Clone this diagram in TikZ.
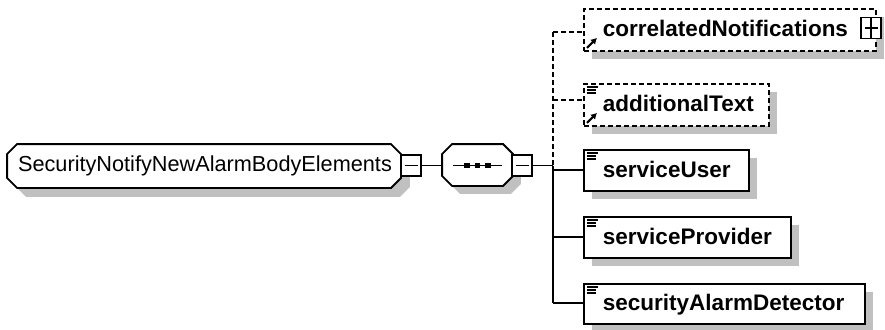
\documentclass[tikz,border=0pt]{standalone}
\usepackage{fontspec}
\setmainfont{Liberation Sans}
\usetikzlibrary{shadows,arrows.meta}
\definecolor{shd}{RGB}{192,192,192}
% octagon path: node name, cut, dx, dy
\newcommand{\xoct}[4]{([shift={(#2+#3,#4)}]#1.north west) -- ([shift={(-#2+#3,#4)}]#1.north east) -- ([shift={(#3,#2+#4)}]#1.north east) -- ([shift={(#3,-#2+#4)}]#1.south east) -- ([shift={(-#2+#3,#4)}]#1.south east) -- ([shift={(#2+#3,#4)}]#1.south west) -- ([shift={(#3,-#2+#4)}]#1.south west) -- ([shift={(#3,#2+#4)}]#1.north west) -- cycle}
\newcommand{\docicon}[1]{\draw[line width=1.4pt] ([shift={(4,4)}]#1.north west) -- ++(11,0) ([shift={(4,6.9)}]#1.north west) -- ++(9,0) ([shift={(4,9.8)}]#1.north west) -- ++(9,0);}
\newcommand{\refarrow}[1]{\draw[line width=2pt,-{Latex[length=6pt,width=7pt]}] ([shift={(4,-4)}]#1.south west) -- ([shift={(14,-14)}]#1.south west);}
\begin{document}
\begin{tikzpicture}[x=1pt,y=-1pt,line width=1.9pt,
  elbox/.style={draw,fill=white,rectangle,inner sep=0pt,
    general shadow={fill=shd,shadow xshift=8pt,shadow yshift=-8pt}},
  optbox/.style={elbox,dash pattern=on 5pt off 3pt},
  optline/.style={dash pattern=on 5pt off 3pt},
  lbl/.style={font=\fontsize{22.5}{27}\selectfont\bfseries,inner sep=0pt,anchor=base west},
  tog/.style={draw,fill=white,rectangle,minimum width=20pt,minimum height=21pt,inner sep=0pt},
  octnode/.style={inner sep=0pt,rectangle}]
\useasboundingbox (0,0) rectangle (885,329);

% root octagon
\node[octnode,minimum width=392pt,minimum height=42pt] (root) at (204,166) {};
\fill[shd] \xoct{root}{10}{9}{9};
\filldraw[fill=white] \xoct{root}{10}{0}{0};
\node[inner sep=0pt,font=\fontsize{21.7}{26}\selectfont] (roott) at (205,166) {SecurityNotifyNewAlarmBodyElements};
\node[tog] (rm) at (411,165.5) {};
\draw ([xshift=-6.5pt]rm.center) -- ([xshift=6.5pt]rm.center);

% sequence octagon
\node[octnode,minimum width=69pt,minimum height=40pt] (seq) at (477.5,165) {};
\fill[shd] \xoct{seq}{10}{8}{8};
\filldraw[fill=white] \xoct{seq}{10}{0}{0};
\coordinate (sl) at (453,165.5);
\coordinate (sr) at (502,165.5);
\draw (sl) -- (sr);
\node[fill=black,minimum size=5.5pt,inner sep=0pt] (d1) at (467,165.5) {};
\node[fill=black,minimum size=5.5pt,inner sep=0pt] (d2) at (477.5,165.5) {};
\node[fill=black,minimum size=5.5pt,inner sep=0pt] (d3) at (488,165.5) {};
\node[tog] (sm) at (522,165.5) {};
\draw ([xshift=-6.5pt]sm.center) -- ([xshift=6.5pt]sm.center);

\draw (rm.east) -- (rm.east -| seq.west);

% children boxes
\node[optbox,minimum width=292pt,minimum height=42pt,anchor=north west] (cN) at (583,8) {};
\node[optbox,minimum width=185pt,minimum height=42pt,anchor=north west] (aT) at (583,83) {};
\node[elbox,minimum width=165pt,minimum height=41pt,anchor=north west] (sU) at (583,149) {};
\node[elbox,minimum width=207pt,minimum height=41pt,anchor=north west] (sP) at (583,216) {};
\node[elbox,minimum width=281pt,minimum height=40pt,anchor=north west] (sA) at (583,283) {};

\node[lbl] (cNt) at ([shift={(19,6.5)}]cN.west) {correlatedNotifications};
\node[lbl] (aTt) at ([shift={(19,6.5)}]aT.west) {additionalText};
\node[lbl] (sUt) at ([shift={(19,7)}]sU.west) {serviceUser};
\node[lbl] (sPt) at ([shift={(19,7)}]sP.west) {serviceProvider};
\node[lbl] (sAt) at ([shift={(19,7)}]sA.west) {securityAlarmDetector};

\refarrow{cN}
\refarrow{aT}
\docicon{aT}
\docicon{sU}
\docicon{sP}
\docicon{sA}

% plus box
\node[tog] (cp) at (871,28) {};
\draw ([xshift=-6.5pt]cp.center) -- ([xshift=6.5pt]cp.center);
\draw ([yshift=-10.5pt]cp.center) -- ([yshift=10.5pt]cp.center);

% bus
\coordinate (b0) at (553,32);
\coordinate (b1) at (553,100);
\coordinate (bm) at (553,165.5);
\coordinate (b2) at (553,170);
\coordinate (b3) at (553,237);
\coordinate (b4) at (553,303);
\draw (sm.east) -- (bm);
\draw[optline] (b0) -- (bm);
\draw (bm) -- (b4);
\draw[optline] (b0) -- (b0 -| cN.west);
\draw[optline] (b1) -- (b1 -| aT.west);
\draw (b2) -- (b2 -| sU.west);
\draw (b3) -- (b3 -| sP.west);
\draw (b4) -- (b4 -| sA.west);
\end{tikzpicture}
\end{document}
